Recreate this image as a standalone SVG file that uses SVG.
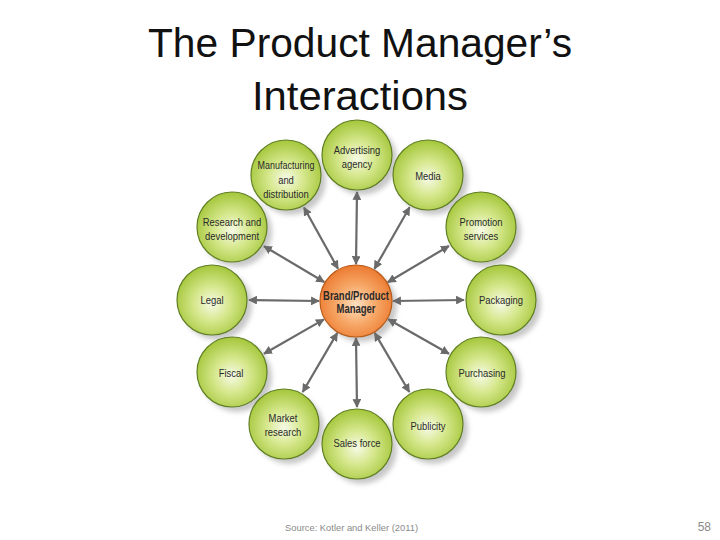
<svg xmlns="http://www.w3.org/2000/svg" width="720" height="540" viewBox="0 0 720 540">
<style>
.title{font-family:"Liberation Sans",Arial,sans-serif;font-size:40px;fill:#111;text-anchor:middle}
.lbl{font-family:"Liberation Sans",Arial,sans-serif;font-size:11.8px;fill:#2a2a2a;text-anchor:middle}
.ctr{font-family:"Liberation Sans",Arial,sans-serif;font-size:12.5px;font-weight:bold;fill:#2a2a2a;text-anchor:middle}
.node{fill:url(#g);stroke:#5f7f22;stroke-width:1.2}
.shadow{fill:#c8c8c8;filter:url(#blur)}
.conn line{stroke:#6a6a6a;stroke-width:2.2;marker-start:url(#ah);marker-end:url(#ah)}
.foot{font-family:"Liberation Sans",Arial,sans-serif;fill:#8a8a8a}
</style>
<defs>
<radialGradient id="g" cx="0.5" cy="0.55" r="0.55">
<stop offset="0" stop-color="#f6fae6"/>
<stop offset="0.45" stop-color="#d6e88e"/>
<stop offset="1" stop-color="#a4c63a"/>
</radialGradient>
<radialGradient id="o" cx="0.5" cy="0.55" r="0.55">
<stop offset="0" stop-color="#fde0c0"/>
<stop offset="0.5" stop-color="#f7a868"/>
<stop offset="1" stop-color="#ec7a30"/>
</radialGradient>
<filter id="blur" x="-20%" y="-20%" width="140%" height="140%"><feGaussianBlur stdDeviation="2.5"/></filter>
<marker id="ah" viewBox="0 0 10 10" refX="9" refY="5" markerWidth="4" markerHeight="4" orient="auto-start-reverse" markerUnits="strokeWidth">
<path d="M0,0 L10,5 L0,10 z" fill="#6a6a6a"/>
</marker>
</defs>
<rect width="720" height="540" fill="#fff"/>
<text class="title" x="360" y="57" textLength="424" lengthAdjust="spacingAndGlyphs">The Product Manager’s</text>
<text class="title" x="360" y="110" textLength="216" lengthAdjust="spacingAndGlyphs">Interactions</text>

<g id="shadows">
<circle class="shadow" cx="362" cy="160" r="35"/>
<circle class="shadow" cx="291" cy="180" r="35"/>
<circle class="shadow" cx="433" cy="180" r="35"/>
<circle class="shadow" cx="237" cy="232" r="35"/>
<circle class="shadow" cx="486" cy="232" r="35"/>
<circle class="shadow" cx="217" cy="305" r="35"/>
<circle class="shadow" cx="506" cy="305" r="35"/>
<circle class="shadow" cx="237" cy="377" r="35"/>
<circle class="shadow" cx="486" cy="377" r="35"/>
<circle class="shadow" cx="289" cy="429" r="35"/>
<circle class="shadow" cx="433" cy="429" r="35"/>
<circle class="shadow" cx="362" cy="449" r="35"/>
<circle class="shadow" cx="361" cy="306" r="36"/>
</g>

<g class="conn" id="connectors">
<line x1="356" y1="264" x2="357" y2="192"/>
<line x1="338" y1="268.7" x2="304" y2="207.5"/>
<line x1="374.4" y1="268.9" x2="409.6" y2="207.3"/>
<line x1="324.2" y1="282" x2="264" y2="246.2"/>
<line x1="387.8" y1="282.2" x2="448.9" y2="246"/>
<line x1="319" y1="301" x2="249" y2="300"/>
<line x1="393" y1="301" x2="464" y2="300"/>
<line x1="323.9" y1="319.4" x2="264" y2="353.7"/>
<line x1="388.2" y1="319.3" x2="449" y2="353.8"/>
<line x1="337.3" y1="332.9" x2="302.7" y2="392"/>
<line x1="374.7" y1="332.9" x2="409.3" y2="392"/>
<line x1="356" y1="338" x2="357" y2="407"/>
</g>

<g id="advertising"><circle class="node" cx="357" cy="155" r="35"/><text class="lbl" transform="translate(357 154) scale(0.8 1)">Advertising</text><text class="lbl" transform="translate(357 168) scale(0.8 1)">agency</text></g>
<g id="manufacturing"><circle class="node" cx="286" cy="175" r="35"/><text class="lbl" transform="translate(286 169) scale(0.76 1)">Manufacturing</text><text class="lbl" transform="translate(286 184) scale(0.8 1)">and</text><text class="lbl" transform="translate(286 198) scale(0.8 1)">distribution</text></g>
<g id="media"><circle class="node" cx="428" cy="175" r="35"/><text class="lbl" transform="translate(428 180) scale(0.8 1)">Media</text></g>
<g id="research"><circle class="node" cx="232" cy="227" r="35"/><text class="lbl" transform="translate(232 226) scale(0.8 1)">Research and</text><text class="lbl" transform="translate(232 240) scale(0.8 1)">development</text></g>
<g id="promotion"><circle class="node" cx="481" cy="227" r="35"/><text class="lbl" transform="translate(481 226) scale(0.8 1)">Promotion</text><text class="lbl" transform="translate(481 240) scale(0.8 1)">services</text></g>
<g id="legal"><circle class="node" cx="212" cy="300" r="35"/><text class="lbl" transform="translate(212 304) scale(0.8 1)">Legal</text></g>
<g id="packaging"><circle class="node" cx="501" cy="300" r="35"/><text class="lbl" transform="translate(501 304) scale(0.8 1)">Packaging</text></g>
<g id="fiscal"><circle class="node" cx="232" cy="372" r="35"/><text class="lbl" transform="translate(231 377) scale(0.8 1)">Fiscal</text></g>
<g id="purchasing"><circle class="node" cx="481" cy="372" r="35"/><text class="lbl" transform="translate(482 377) scale(0.8 1)">Purchasing</text></g>
<g id="market"><circle class="node" cx="284" cy="424" r="35"/><text class="lbl" transform="translate(283 422) scale(0.8 1)">Market</text><text class="lbl" transform="translate(283 436) scale(0.8 1)">research</text></g>
<g id="publicity"><circle class="node" cx="428" cy="424" r="35"/><text class="lbl" transform="translate(428 430) scale(0.8 1)">Publicity</text></g>
<g id="sales"><circle class="node" cx="357" cy="444" r="35"/><text class="lbl" transform="translate(357 447) scale(0.8 1)">Sales force</text></g>
<g id="brand"><circle cx="356" cy="301" r="36" fill="url(#o)" stroke="#b85a18" stroke-width="1.2"/><text class="ctr" transform="translate(356 300) scale(0.76 1)">Brand/Product</text><text class="ctr" transform="translate(356 313) scale(0.76 1)">Manager</text></g>

<text class="foot" x="285" y="531" font-size="9" textLength="133" lengthAdjust="spacingAndGlyphs">Source: Kotler and Keller (2011)</text>
<text class="foot" x="711" y="531" font-size="12" text-anchor="end">58</text>
</svg>
